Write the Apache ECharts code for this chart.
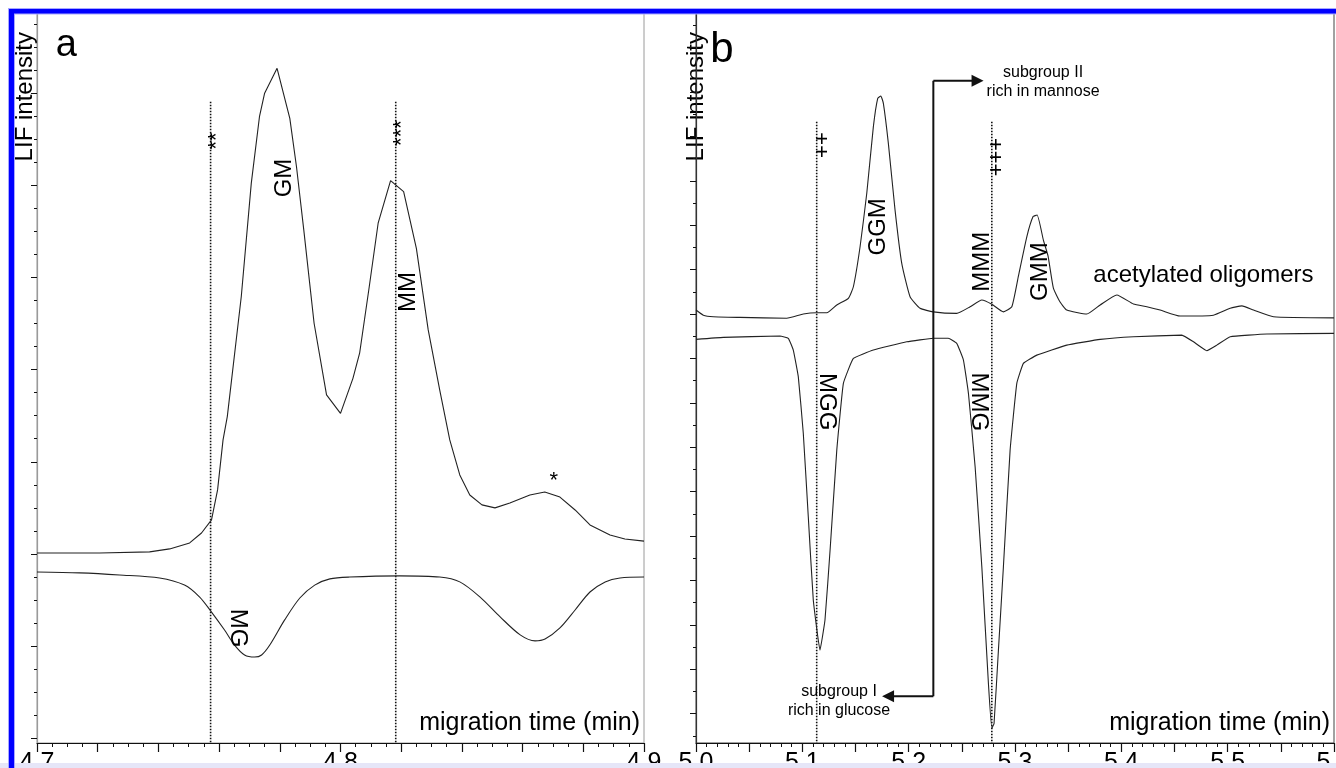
<!DOCTYPE html>
<html><head><meta charset="utf-8">
<script src="https://cdn.jsdelivr.net/npm/echarts@6/dist/echarts.min.js"></script>
<style>html,body{margin:0;padding:0;background:#fff}#c{width:1336px;height:768px}</style>
</head><body><div id="c"></div>
<script>
// ---------------- DATA ----------------
// Panel a: migration time (min) and LIF intensity (arbitrary units)
const aUpperTime = [4.7000,4.7206,4.7371,4.7437,4.7503,4.7542,4.7575,4.7595,4.7613,4.7627,4.7673,4.7706,4.7733,4.7750,4.7791,4.7833,4.7855,4.7879,4.7913,4.7954,4.8000,4.8041,4.8063,4.8094,4.8124,4.8165,4.8208,4.8250,4.8289,4.8327,4.8360,4.8393,4.8426,4.8466,4.8509,4.8558,4.8624,4.8673,4.8723,4.8773,4.8822,4.8888,4.8937,4.9000];
const aUpperLIF  = [0.04,0.04,0.09,0.22,0.48,0.91,1.48,2.78,4.95,5.96,11.16,16.08,18.97,19.99,21.07,18.90,16.80,14.06,10.01,6.90,6.10,7.62,8.71,11.53,14.35,16.20,15.72,13.26,9.72,7.11,4.95,3.43,2.56,2.13,2.00,2.21,2.56,2.69,2.47,1.91,1.26,0.82,0.65,0.56];
const aLowerTime = [4.7000,4.7140,4.7272,4.7404,4.7486,4.7536,4.7575,4.7618,4.7651,4.7684,4.7717,4.7740,4.7767,4.7816,4.7866,4.7915,4.7965,4.8030,4.8195,4.8327,4.8393,4.8460,4.8526,4.8592,4.8641,4.8674,4.8723,4.8773,4.8822,4.8872,4.8921,4.9000];
const aLowerLIF  = [-0.78,-0.82,-0.91,-1.04,-1.35,-1.87,-2.52,-3.30,-3.95,-4.38,-4.47,-4.38,-3.95,-2.86,-1.91,-1.35,-1.08,-1.00,-0.95,-1.00,-1.21,-1.87,-2.73,-3.51,-3.77,-3.69,-3.21,-2.43,-1.65,-1.21,-1.04,-1.00];
const aMarkerTimes = [4.7572, 4.8182];
const aMarkerTop = 19.62;

// Panel b
const bUpperTime = [5.0000,5.0069,5.0163,5.0414,5.0853,5.1009,5.1135,5.1230,5.1324,5.1433,5.1480,5.1543,5.1606,5.1668,5.1709,5.1738,5.1762,5.1809,5.1872,5.1935,5.2013,5.2107,5.2232,5.2452,5.2578,5.2688,5.2782,5.2891,5.2970,5.3032,5.3111,5.3170,5.3208,5.3267,5.3311,5.3361,5.3424,5.3487,5.3675,5.3801,5.3958,5.4114,5.4240,5.4365,5.4553,5.4866,5.5024,5.5134,5.5243,5.5431,5.6000];
const bUpperLIF  = [0.18,-0.05,-0.12,-0.15,-0.19,0.00,0.06,0.06,0.41,0.71,1.23,3.03,5.44,8.44,9.72,9.82,9.49,7.69,4.68,2.28,0.78,0.26,0.10,0.03,0.33,0.63,0.44,0.10,0.33,1.71,3.48,4.39,4.46,3.33,2.61,1.17,0.54,0.18,0.00,0.41,0.86,0.45,0.33,0.18,-0.09,-0.05,0.26,0.37,0.18,-0.12,-0.17];
const bLowerTime = [5.0000,5.0257,5.0790,5.0868,5.0915,5.0962,5.1009,5.1056,5.1103,5.1166,5.1213,5.1261,5.1324,5.1386,5.1480,5.1668,5.1982,5.2232,5.2373,5.2452,5.2515,5.2562,5.2625,5.2688,5.2750,5.2782,5.2803,5.2844,5.2891,5.2954,5.3017,5.3079,5.3205,5.3487,5.3801,5.4114,5.4569,5.4678,5.4804,5.4898,5.5024,5.5369,5.6000];
const bLowerLIF  = [-1.14,-1.05,-0.99,-1.09,-1.62,-2.82,-5.37,-9.13,-12.88,-15.14,-13.78,-10.63,-6.13,-3.12,-2.00,-1.62,-1.25,-1.09,-1.09,-1.32,-2.07,-3.57,-6.88,-11.38,-16.64,-18.66,-18.44,-15.14,-11.38,-6.13,-3.12,-2.22,-1.85,-1.40,-1.14,-1.02,-0.95,-1.25,-1.65,-1.40,-1.02,-0.90,-0.87];
const bMarkerTimes = [5.1135, 5.2782];
const bMarkerTop = 8.66;
// arrow (subgroup split): x of vertical bar, top/bottom levels, arrowhead x positions
const bArrowTime = 5.2232;
const bArrowTopLIF = 10.51, bArrowBottomLIF = -17.21;
const bArrowTopEnd = 5.2648, bArrowBottomEnd = 5.1806;

// tick labels
const aTickLabels = ['4.7','4.8','4.9'];
const bTickLabels = ['5.0','5.1','5.2','5.3','5.4','5.5','5.6'];

// annotation texts and their anchors (time, intensity)
const aNotes = ['a','GM','MM','MG','*','**','***'];
const aNoteAt = [[4.7097,22.08],[4.7816,16.31],[4.8222,11.37],[4.7661,-3.21],[4.8703,3.17],[4.7592,17.92],[4.8202,18.26]];
const bNotes = ['b','GGM','MMM','GMM','MGG','MMG','acetylated oligomers','++','+++','subgroup II\nrich in mannose','subgroup I\nrich in glucose'];
const bNoteAt = [[5.0245,11.89],[5.1715,3.93],[5.2697,2.36],[5.3236,1.91],[5.1230,-3.95],[5.2656,-3.95],[5.4772,1.76],[5.1195,7.61],[5.2832,7.07],[5.3264,10.45],[5.1345,-17.43]];

// ---------------- STYLE / LAYOUT ----------------
const FONT = '"Liberation Sans", Arial, sans-serif';
const INK = '#000000';
const A_MIN = -8.2, A_MAX = 23.47;
const B_MIN = -19.32, B_MAX = 13.56;
const aNoteStyle = [[38,0],[24,90],[24,90],[24,-90],[22,0],[22,90],[22,90]];
const bNoteStyle = [[42,0],[24,90],[24,90],[24,90],[24,-90],[24,-90],[24,0],[22,90],[22,90],[16,0],[16,0]];

function range(a, b, s) { const r = []; for (let v = a; v <= b + 1e-9; v += s) r.push(+v.toFixed(4)); return r; }
const zip = (xs, ys) => xs.map((x, i) => [x, ys[i]]);

function makeX(gi, min, max, interval, minorSplit, labels) {
  return {
    type: 'value', gridIndex: gi, min, max, interval, position: 'bottom',
    axisLine: { show: true, onZero: false, lineStyle: { color: '#111', width: 1.2 } },
    axisTick: { show: true, inside: false, length: 9, lineStyle: { color: '#111', width: 1.2 } },
    minorTick: { show: true, splitNumber: minorSplit, length: 4, lineStyle: { color: '#111', width: 1 } },
    splitLine: { show: false }, minorSplitLine: { show: false },
    axisLabel: {
      show: true, margin: 8, fontSize: 25, color: INK, fontFamily: FONT, hideOverlap: false,
      showMinLabel: true, showMaxLabel: true,
      formatter: v => { const s = (Math.round(v * 100) / 100).toFixed(2); return labels.indexOf((+s).toFixed(1)) >= 0 && Math.abs(v * 10 - Math.round(v * 10)) < 1e-6 ? (+s).toFixed(1) : ''; }
    },
    name: 'migration time (min)', nameLocation: 'end', nameGap: -4,
    nameTextStyle: { fontSize: 25, color: INK, fontFamily: FONT, align: 'right', verticalAlign: 'bottom', lineHeight: 26, padding: [0, 0, 7, 0] }
  };
}
function makeY(gi, min, max, ticks, len, withName, lineColor, nameShift) {
  const ax = {
    type: 'value', gridIndex: gi, min, max, position: 'left',
    axisLine: { show: withName, onZero: false, lineStyle: { color: lineColor, width: 1.2 } },
    axisTick: { show: true, inside: false, length: len, customValues: ticks, lineStyle: { color: '#111', width: 1 } },
    axisLabel: { show: false }, splitLine: { show: false }
  };
  if (withName) {
    ax.name = 'LIF intensity'; ax.nameLocation = 'end'; ax.nameGap = -19; ax.nameRotate = 90;
    ax.nameTextStyle = { fontSize: 24, color: INK, fontFamily: FONT, align: 'right', verticalAlign: nameShift ? 'middle' : 'bottom', padding: nameShift ? [0, 0, nameShift, 0] : 0 };
  }
  return ax;
}
function trace(gi, yi, data, smooth) {
  return { type: 'line', xAxisIndex: gi, yAxisIndex: yi, data, symbol: 'none', smooth, silent: true,
    lineStyle: { color: '#222', width: 1.1 }, z: 3 };
}
function dotted(gi, yi, t, top, bottom) {
  return { type: 'line', xAxisIndex: gi, yAxisIndex: yi, data: [[t, top], [t, bottom]], symbol: 'none', silent: true,
    lineStyle: { color: '#111', width: 1.6, type: [1.5, 1.5] }, z: 2 };
}
function notes(gi, yi, texts, at, style) {
  return { type: 'scatter', xAxisIndex: gi, yAxisIndex: yi, symbolSize: 0, silent: true, z: 5,
    itemStyle: { color: '#000', opacity: 1 },
    emphasis: { disabled: true },
    data: texts.map((t, i) => ({ value: at[i], label: { formatter: t, fontSize: style[i][0], rotate: style[i][1], lineHeight: Math.round(style[i][0] * 1.2) } })),
    label: { show: true, position: 'inside', color: INK, opacity: 1, fontFamily: FONT, align: 'center', verticalAlign: 'middle', textBorderWidth: 0, textShadowBlur: 0 } };
}

const aMinor = range(-8, 23, 1), aMajor = range(-8, 20, 4);
const bMinor = range(-19, 13, 1), bMajor = range(-18, 12, 2);

const series = [
  trace(0, 0, zip(aUpperTime, aUpperLIF), false),
  trace(0, 0, zip(aLowerTime, aLowerLIF), 0.3),
  ...aMarkerTimes.map(t => dotted(0, 0, t, aMarkerTop, A_MIN)),
  trace(1, 2, zip(bUpperTime, bUpperLIF), 0.15),
  trace(1, 2, zip(bLowerTime, bLowerLIF), 0.1),
  ...bMarkerTimes.map(t => dotted(1, 2, t, bMarkerTop, B_MIN)),
  { type: 'line', xAxisIndex: 1, yAxisIndex: 2, symbol: 'none', silent: true, z: 4,
    data: [[bArrowTime, bArrowTopLIF], [bArrowTime, bArrowBottomLIF]], lineStyle: { color: '#111', width: 2 } },
  { type: 'line', xAxisIndex: 1, yAxisIndex: 2, symbol: 'none', showSymbol: true, silent: true, z: 4,
    data: [{ value: [bArrowTime, bArrowTopLIF] }, { value: [bArrowTopEnd, bArrowTopLIF], symbol: 'triangle', symbolSize: [12, 12], symbolRotate: -90, itemStyle: { color: '#111' } }],
    lineStyle: { color: '#111', width: 2 }, itemStyle: { color: '#111' } },
  { type: 'line', xAxisIndex: 1, yAxisIndex: 2, symbol: 'none', showSymbol: true, silent: true, z: 4,
    data: [{ value: [bArrowTime, bArrowBottomLIF] }, { value: [bArrowBottomEnd, bArrowBottomLIF], symbol: 'triangle', symbolSize: [12, 12], symbolRotate: 90, itemStyle: { color: '#111' } }],
    lineStyle: { color: '#111', width: 2 }, itemStyle: { color: '#111' } },
  notes(0, 0, aNotes, aNoteAt, aNoteStyle),
  notes(1, 2, bNotes, bNoteAt, bNoteStyle)
];

const option = {
  animation: false,
  backgroundColor: '#ffffff',
  textStyle: { fontFamily: FONT },
  grid: [
    { left: 37, top: 13, width: 607, height: 730, show: true, borderColor: '#9a9a9a', borderWidth: 1, containLabel: false, outerBoundsMode: 'none' },
    { left: 696, top: 13, width: 638, height: 730, show: true, borderColor: '#444', borderWidth: 1, containLabel: false, outerBoundsMode: 'none' }
  ],
  xAxis: [ makeX(0, 4.7, 4.9, 0.02, 4, aTickLabels), makeX(1, 5.0, 5.6, 0.05, 5, bTickLabels) ],
  yAxis: [
    makeY(0, A_MIN, A_MAX, aMajor, 6, true, '#9a9a9a', 0),
    makeY(0, A_MIN, A_MAX, aMinor, 3, false, '#9a9a9a', 0),
    makeY(1, B_MIN, B_MAX, bMajor, 6, true, '#333', 14),
    makeY(1, B_MIN, B_MAX, bMinor, 3, false, '#333', 0)
  ],
  series,
  graphic: [
    { type: 'rect', z: 100, shape: { x: 0, y: 763, width: 1336, height: 5 }, style: { fill: '#e6e6f8' } },
    { type: 'rect', z: 100, shape: { x: 8, y: 8, width: 1328, height: 6.5 }, style: { fill: '#a8a8ff' } },
    { type: 'rect', z: 101, shape: { x: 9, y: 9, width: 1327, height: 4.5 }, style: { fill: '#0000ff' } },
    { type: 'rect', z: 100, shape: { x: 8, y: 8, width: 7, height: 760 }, style: { fill: '#a8a8ff' } },
    { type: 'rect', z: 101, shape: { x: 9, y: 9, width: 5, height: 759 }, style: { fill: '#0000ff' } }
  ]
};
const chart = echarts.init(document.getElementById('c'), null, { renderer: 'canvas' });
chart.setOption(option);
</script>
</body></html>
